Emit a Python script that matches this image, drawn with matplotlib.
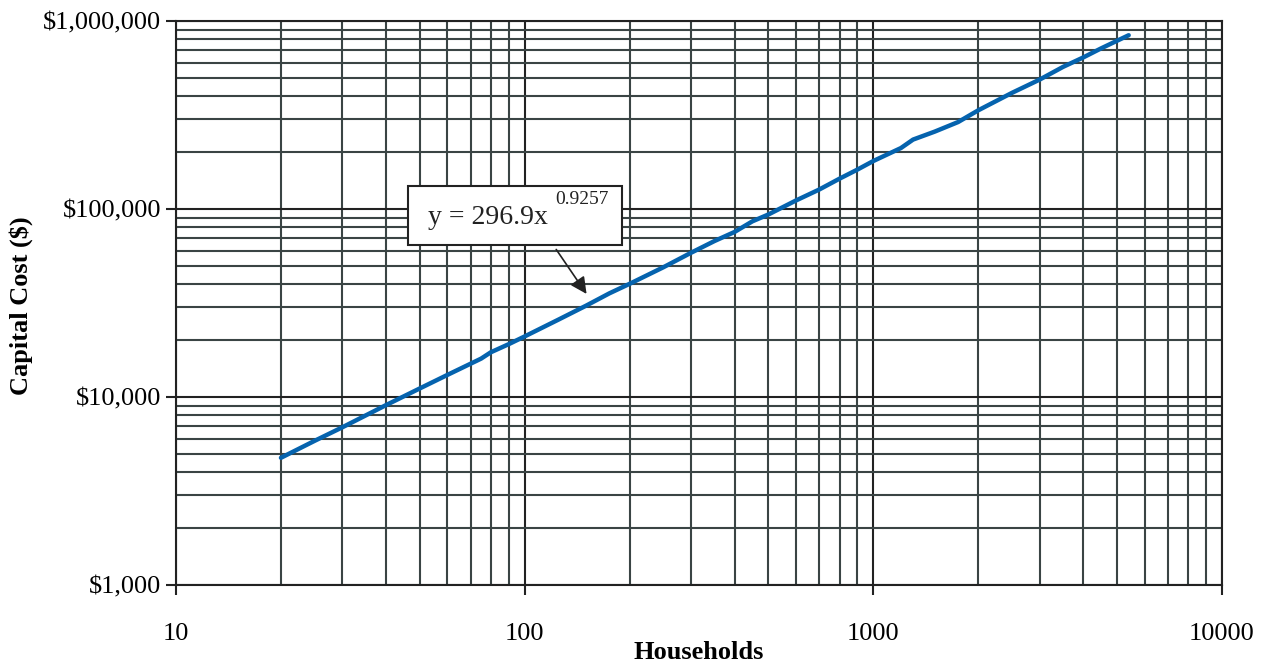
import matplotlib.pyplot as plt
from matplotlib.patches import Rectangle
from matplotlib.ticker import FixedLocator, FuncFormatter, LogLocator, NullFormatter

plt.rcParams['font.family'] = ['Liberation Serif', 'DejaVu Serif']

# households vs capital cost
households = [20, 25, 30, 40, 50, 60, 75, 80, 90, 100, 125, 150, 175, 200, 250,
              300, 350, 400, 450, 500, 600, 700, 800, 900, 1000, 1200, 1300,
              1500, 1750, 2000, 2500, 3000, 3500, 4000, 4500, 5000, 5400]
cost = [4750, 5850, 6900, 9050, 11100, 13100, 16000, 17300, 19100, 21000,
        25800, 30600, 35600, 40000, 49000, 58500, 67500, 75500, 86000, 93500,
        111000, 127000, 145000, 162000, 180000, 211000, 234000, 258000, 290000,
        335000, 415000, 488000, 570000, 640000, 715000, 785000, 840000]

y_ticks = [1000, 10000, 100000, 1000000]
x_ticks = [10, 100, 1000, 10000]

fig = plt.figure(figsize=(12.7, 6.62), dpi=100)
ax = fig.add_axes([176/1270, 1-585/662, (1222-176)/1270, (585-21)/662])

ax.set_xscale('log')
ax.set_yscale('log')
ax.set_xlim(10, 10000)
ax.set_ylim(1000, 1000000)

ax.plot(households, cost, color='#0563ae', lw=3.2, zorder=3, solid_capstyle='round')

ax.xaxis.set_major_locator(FixedLocator(x_ticks))
ax.yaxis.set_major_locator(FixedLocator(y_ticks))
ax.xaxis.set_minor_locator(LogLocator(base=10, subs=range(2, 10)))
ax.yaxis.set_minor_locator(LogLocator(base=10, subs=range(2, 10)))
ax.xaxis.set_minor_formatter(NullFormatter())
ax.yaxis.set_minor_formatter(NullFormatter())
ax.xaxis.set_major_formatter(FuncFormatter(lambda v, p: '%d' % v))
ax.yaxis.set_major_formatter(FuncFormatter(lambda v, p: '${:,.0f}'.format(v)))

ax.grid(True, which='major', color='#222222', lw=1.5)
ax.grid(True, which='minor', color='#3a4444', lw=1.5)
ax.tick_params(which='major', direction='out', length=7, width=1.5, labelsize=19, color='#222222')
ax.tick_params(axis='x', pad=20)
ax.tick_params(which='minor', length=0)
for s in ax.spines.values():
    s.set_linewidth(1.5)
    s.set_color('#222222')

ax.set_xlabel('Households', fontsize=19, fontweight='bold')
ax.set_ylabel('Capital Cost ($)', fontsize=19, fontweight='bold')
ax.xaxis.set_label_coords(0.5, -0.099)
ax.yaxis.set_label_coords(-0.137, 0.496)

# equation label with arrow
ax.annotate('', xy=(0.394, 0.512), xytext=(0.362, 0.599), xycoords='axes fraction',
            arrowprops=dict(arrowstyle='-|>', color='#222222', lw=1.2, mutation_scale=25), zorder=4)
ax.add_patch(Rectangle((0.2218, 0.6028), 0.2046, 0.1046, transform=ax.transAxes,
                       fc='white', ec='#222222', lw=1.5, zorder=5))
ax.text(0.241, 0.651, 'y = 296.9x', fontsize=20, ha='left', va='center', zorder=6,
        color='#222222', transform=ax.transAxes)
ax.text(0.3623, 0.683, '0.9257', fontsize=14, ha='left', va='center', zorder=6,
        color='#222222', transform=ax.transAxes)

fig.savefig('out.png', dpi=100)
